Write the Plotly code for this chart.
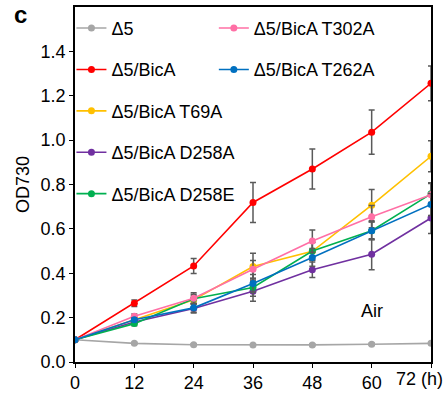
import plotly.graph_objects as go

hours = [0, 12, 24, 36, 48, 60, 72]
x_ticks = [0, 12, 24, 36, 48, 60, 72]
x_ticktext = ["0", "12", "24", "36", "48", "60", ""]
y_ticks = [0.0, 0.2, 0.4, 0.6, 0.8, 1.0, 1.2, 1.4]

names = ["Δ5", "Δ5/BicA", "Δ5/BicA T69A", "Δ5/BicA D258A", "Δ5/BicA D258E",
         "Δ5/BicA T302A", "Δ5/BicA T262A"]

d5 = [0.10, 0.084, 0.078, 0.077, 0.077, 0.080, 0.084]
bica = [0.10, 0.265, 0.433, 0.719, 0.870, 1.036, 1.256]
t69a = [0.10, 0.190, 0.280, 0.430, 0.499, 0.707, 0.927]
d258a = [0.10, 0.180, 0.241, 0.319, 0.416, 0.486, 0.649]
d258e = [0.10, 0.173, 0.285, 0.336, 0.500, 0.592, 0.758]
t302a = [0.10, 0.206, 0.287, 0.418, 0.545, 0.655, 0.754]
t262a = [0.10, 0.190, 0.244, 0.354, 0.471, 0.591, 0.710]

err_d5 = [0, 0.004, 0.004, 0.004, 0.004, 0.004, 0.004]
err_bica = [0, 0.015, 0.034, 0.090, 0.090, 0.100, 0.078]
err_t69a = [0, 0.010, 0.020, 0.060, 0.040, 0.070, 0.070]
err_d258a = [0, 0.010, 0.020, 0.045, 0.035, 0.070, 0.070]
err_d258e = [0, 0.010, 0.020, 0.040, 0.040, 0.040, 0.050]
err_t302a = [0, 0.010, 0.025, 0.040, 0.050, 0.050, 0.050]
err_t262a = [0, 0.010, 0.020, 0.040, 0.040, 0.040, 0.050]

series = [d5, bica, t69a, d258a, d258e, t302a, t262a]
errors = [err_d5, err_bica, err_t69a, err_d258a, err_d258e, err_t302a, err_t262a]
colors = ["#A6A6A6", "#FF0000", "#FFC000", "#7030A0", "#00B050", "#FF6FA5", "#0070C0"]
legends = ["legend", "legend", "legend", "legend", "legend", "legend2", "legend2"]

FONT = "Arial, Liberation Sans, sans-serif"

fig = go.Figure()
for i, (nm, ys, er, col, lg) in enumerate(zip(names, series, errors, colors, legends)):
    fig.add_trace(go.Scatter(
        x=hours, y=ys, name=nm, mode="lines+markers",
        line=dict(color=col, width=1.6),
        marker=dict(color=col, size=7),
        error_y=dict(type="data", array=er, visible=True, color="#5A5A5A",
                     thickness=1.5, width=3),
        legend=lg, legendgroup=nm,
    ))

fig.update_layout(
    width=448, height=398,
    margin=dict(l=75, r=17, t=5, b=33),
    plot_bgcolor="white", paper_bgcolor="white",
    font=dict(family=FONT, size=18, color="black"),
    showlegend=True,
    legend=dict(x=-0.01, y=0.992, xanchor="left", yanchor="top",
                bgcolor="rgba(0,0,0,0)", font=dict(size=18),
                tracegroupgap=15, itemwidth=30),
    legend2=dict(x=0.39, y=0.992, xanchor="left", yanchor="top",
                 bgcolor="rgba(0,0,0,0)", font=dict(size=18),
                 tracegroupgap=15, itemwidth=30),
    xaxis=dict(range=[0, 72], tickvals=x_ticks, ticktext=x_ticktext,
               showline=True, linecolor="black", linewidth=1.5, mirror=True,
               ticks="outside", ticklen=4, tickcolor="black", showgrid=False,
               zeroline=False, tickfont=dict(size=18)),
    yaxis=dict(range=[0, 1.6], tickvals=y_ticks, tickformat=".1f",
               showline=True, linecolor="black", linewidth=1.5, mirror=True,
               ticks="outside", ticklen=4, tickcolor="black", showgrid=False,
               zeroline=False, tickfont=dict(size=18),
               title=dict(text="OD730", font=dict(size=18), standoff=6)),
)

fig.add_annotation(x=72, y=0, xref="x", yref="y", text="72 (h)", showarrow=False,
                   xanchor="center", yanchor="top", xshift=-12, yshift=-5,
                   font=dict(size=18))
fig.add_annotation(x=60, y=0.23, xref="x", yref="y", text="Air", showarrow=False,
                   font=dict(size=18))
fig.add_annotation(x=-0.152, y=0.978, xref="paper", yref="paper", text="<b>c</b>",
                   showarrow=False, xanchor="center", yanchor="middle",
                   font=dict(size=24))

fig.write_html("out.html")
